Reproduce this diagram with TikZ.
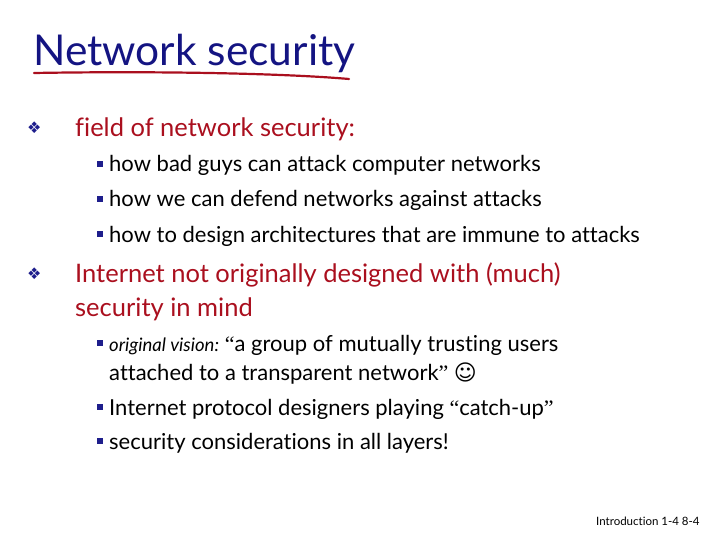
\documentclass[tikz,border=0pt]{standalone}
\usepackage{fontspec}
\setmainfont[Ligatures=NoCommon]{Lato}
\newfontfamily\serifq{Liberation Serif}
\newfontfamily\djv{DejaVu Sans}
\definecolor{ttl}{RGB}{20,20,130}
\definecolor{rd}{RGB}{170,15,30}
\definecolor{bl}{RGB}{30,30,140}
\begin{document}
\begin{tikzpicture}[x=1pt,y=-1pt,
  t/.style={anchor=base west,inner sep=0pt},
  lone/.style={t,font=\fontsize{25.5}{28}\selectfont,text=rd},
  ltwo/.style={t,font=\fontsize{22}{24}\selectfont,text=black},
  bul/.style={t,text=bl,font=\djv\fontsize{16}{18}\selectfont},
  sq/.style={fill=bl,minimum size=6.5pt,inner sep=0pt}]
\useasboundingbox (0,0) rectangle (720,540);
\node[t,font=\fontsize{42.5}{46}\selectfont,text=ttl] (title) at (33,66) {Network security};
\draw[rd,line width=2.2pt,line cap=round] (34,73) .. controls (150,71) and (280,73) .. (349,79);
\node[bul] (b1) at (27,134) {❖};
\node[lone] (l1) at (75,137) {field of network security:};
\node[sq] (s1) at (100,164) {}; \node[ltwo] (t1) at (109,172) {how bad guys can attack computer networks};
\node[sq] (s2) at (100,199) {}; \node[ltwo] (t2) at (109,207) {how we can defend networks against attacks};
\node[sq] (s3) at (100,234) {}; \node[ltwo] (t3) at (109,242) {how to design architectures that are immune to attacks};
\node[bul] (b2) at (27,279) {❖};
\node[lone] (l2) at (75,282) {Internet not originally designed with (much)};
\node[lone] (l2b) at (75,316) {security in mind};
\node[sq] (s4) at (100,343) {}; \node[ltwo] (t4) at (109,351) {\itshape\fontsize{18.5}{20}\selectfont original vision: \upshape\fontsize{22}{24}\selectfont{\serifq“}a group of mutually trusting users};
\node[ltwo] (t4b) at (109,380) {attached to a transparent network{\serifq”} {\djv☺}};
\node[sq] (s5) at (100,407) {}; \node[ltwo] (t5) at (109,415) {Internet protocol designers playing {\serifq“}catch-up{\serifq”}};
\node[sq] (s6) at (100,441) {}; \node[ltwo] (t6) at (109,449) {security considerations in all layers!};
\node[t,font=\fontsize{11.5}{13}\selectfont] (ft) at (596,525) {Introduction 1-4 8-4};
\end{tikzpicture}
\end{document}
